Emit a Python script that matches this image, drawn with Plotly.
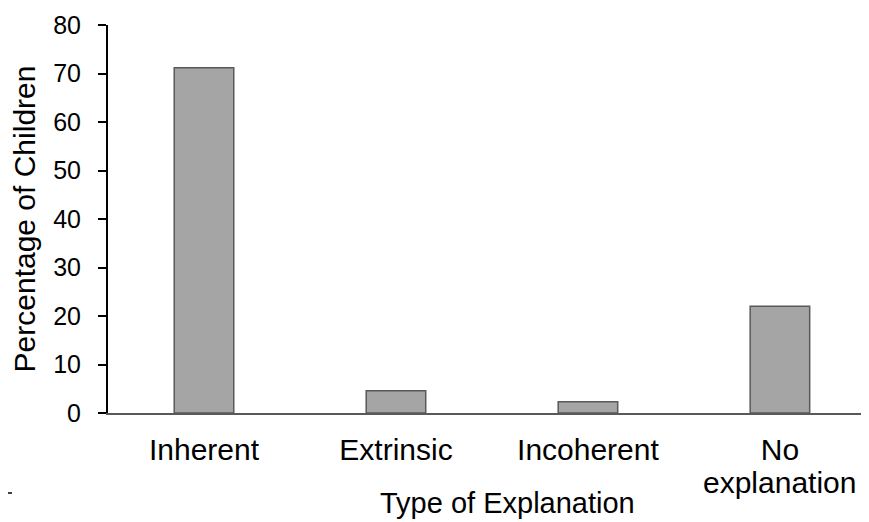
import plotly.graph_objects as go

categories = ["Inherent", "Extrinsic", "Incoherent", "No explanation"]
tick_labels = ["Inherent", "Extrinsic", "Incoherent", "No"]
second_line = {"No explanation": "explanation"}
percentages = [71.2, 4.6, 2.3, 22.0]
y_ticks = [0, 10, 20, 30, 40, 50, 60, 70, 80]

FONT = "Liberation Sans, Arial, sans-serif"

fig = go.Figure(
    go.Bar(
        x=categories,
        y=percentages,
        width=0.31,
        marker=dict(color="#a5a5a5", line=dict(color="#595959", width=1.5)),
    )
)

fig.update_layout(
    width=869,
    height=522,
    margin=dict(l=100, r=8, t=17, b=117),
    paper_bgcolor="white",
    plot_bgcolor="white",
    showlegend=False,
    font=dict(family=FONT, color="black"),
)

fig.update_xaxes(
    type="category",
    range=[-0.5, 3.464],
    tickmode="array",
    tickvals=categories,
    ticktext=tick_labels,
    ticks="",
    showline=True,
    linecolor="#595959",
    linewidth=2,
    showgrid=False,
    zeroline=False,
    tickfont=dict(size=30, family=FONT),
    ticklabelstandoff=9,
    automargin=False,
)

fig.update_yaxes(
    range=[0, 80],
    tickmode="array",
    tickvals=y_ticks,
    ticks="outside",
    ticklen=8,
    tickwidth=2,
    tickcolor="black",
    showline=True,
    linecolor="black",
    linewidth=2,
    showgrid=False,
    zeroline=False,
    tickfont=dict(size=25, family=FONT),
    ticklabelstandoff=12,
    title=dict(text="Percentage of Children", font=dict(size=30, family=FONT), standoff=13),
    automargin=False,
)

# second line of the wrapped category label (tighter line spacing than <br>)
for cat, txt in second_line.items():
    fig.add_annotation(
        text=txt, xref="x", yref="paper", x=cat, y=-0.178,
        xanchor="center", yanchor="middle", showarrow=False,
        font=dict(size=30, family=FONT, color="black"),
    )

fig.add_annotation(
    text="Type of Explanation", xref="paper", yref="paper",
    x=0.525, y=-0.232, xanchor="center", yanchor="middle",
    showarrow=False, font=dict(size=29, family=FONT, color="black"),
)

fig.add_shape(type="line", xref="paper", yref="paper",
              x0=-100/761, x1=-96/761, y0=-80/388, y1=-80/388,
              line=dict(color="black", width=1.5))

fig.write_html("out.html")
